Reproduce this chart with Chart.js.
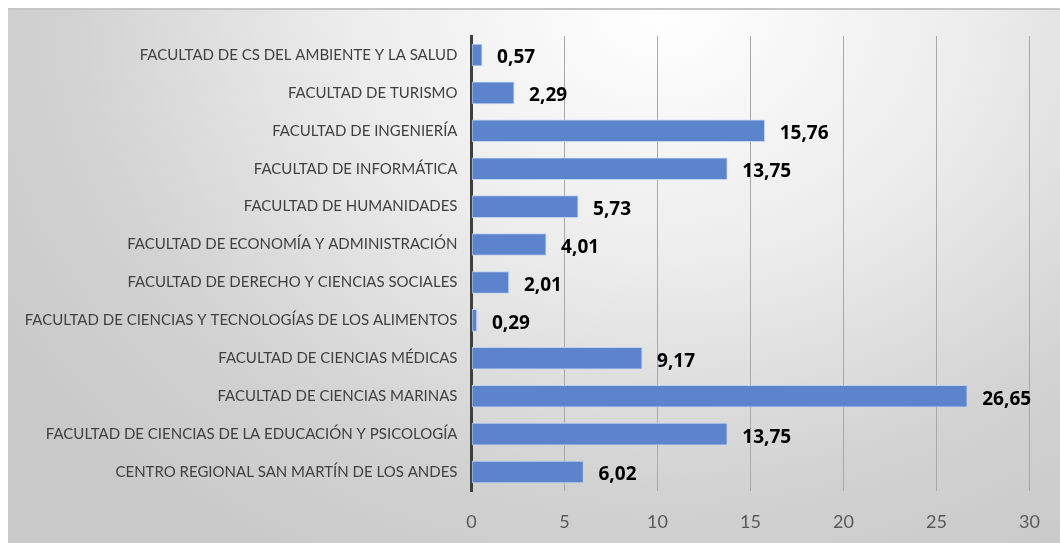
<!DOCTYPE html>
<html>
<head>
<meta charset="utf-8">
<script src="https://cdn.jsdelivr.net/npm/chart.js@4/dist/chart.umd.min.js"></script>
<style>
    body { margin: 0; background: #fff; }
    #box {
        position: absolute; left: 8px; top: 8px;
        width: 1052px; height: 535px;
        border-top: 2px solid #c6c6c6;
        background: radial-gradient(ellipse 75% 120% at 62% 0%, #ffffff 0%, #ececec 40%, #d2d2d2 75%, #c9c9c9 100%);
    }
    canvas { display: block; }
</style>
</head>
<body>
<div id="box"><canvas id="chart" width="1052" height="533"></canvas></div>
<script>
const facultades = [
    "FACULTAD DE CS DEL AMBIENTE Y LA SALUD",
    "FACULTAD DE TURISMO",
    "FACULTAD DE INGENIERÍA",
    "FACULTAD DE INFORMÁTICA",
    "FACULTAD DE HUMANIDADES",
    "FACULTAD DE ECONOMÍA Y ADMINISTRACIÓN",
    "FACULTAD DE DERECHO Y CIENCIAS SOCIALES",
    "FACULTAD DE CIENCIAS Y TECNOLOGÍAS DE LOS ALIMENTOS",
    "FACULTAD DE CIENCIAS MÉDICAS",
    "FACULTAD DE CIENCIAS MARINAS",
    "FACULTAD DE CIENCIAS DE LA EDUCACIÓN Y PSICOLOGÍA",
    "CENTRO REGIONAL SAN MARTÍN DE LOS ANDES"
];
const porcentajes = [0.57, 2.29, 15.76, 13.75, 5.73, 4.01, 2.01, 0.29, 9.17, 26.65, 13.75, 6.02];
const xTicks = [0, 5, 10, 15, 20, 25, 30];

// etiquetas de valor a la derecha de cada barra
const valueLabels = {
    id: "valueLabels",
    afterDatasetsDraw(chart) {
        const ctx = chart.ctx;
        const meta = chart.getDatasetMeta(0);
        ctx.save();
        ctx.font = "bold 19px 'Open Sans'";
        ctx.fillStyle = "#000";
        ctx.textAlign = "left";
        ctx.textBaseline = "middle";
        meta.data.forEach((bar, i) => {
            const txt = porcentajes[i].toFixed(2).replace(".", ",");
            ctx.fillText(txt, bar.x + 15, bar.y + 3);
        });
        ctx.restore();
    }
};

const ctx = document.getElementById("chart");
new Chart(ctx, {
    type: "bar",
    data: {
        labels: facultades,
        datasets: [{
            data: porcentajes,
            backgroundColor: "#5b84cc",
            borderColor: "rgba(190,208,238,0.9)",
            borderWidth: 1,
            borderSkipped: false,
            barThickness: 22
        }]
    },
    options: {
        indexAxis: "y",
        responsive: false,
        animation: false,
        layout: { padding: { top: 26, right: 18, left: 0, bottom: 0 } },
        plugins: { legend: { display: false }, tooltip: { enabled: false } },
        scales: {
            x: {
                min: 0, max: 30,
                afterBuildTicks: s => { s.ticks = xTicks.map(v => ({ value: v })); },
                afterFit: s => { s.height = 52; },
                grid: { color: "#a8a8a8", lineWidth: 1, drawTicks: false },
                border: { display: false },
                ticks: { color: "#595959", font: { family: "Lato", size: 18 }, padding: 20 }
            },
            y: {
                afterFit: s => { s.width = 463.5; },
                grid: { display: false, drawTicks: false },
                border: { display: true, color: "#3f3f3f", width: 3 },
                ticks: { color: "#404040", font: { family: "Lato", size: 15 }, padding: 14, autoSkip: false }
            }
        }
    },
    plugins: [valueLabels]
});
</script>
</body>
</html>
